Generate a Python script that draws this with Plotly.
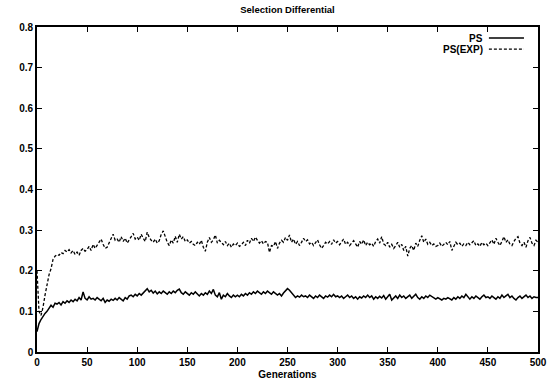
import plotly.graph_objects as go

generations = list(range(0, 501, 2))

ps_exp = [
    0.20, 0.10, 0.09, 0.11, 0.14, 0.165, 0.19, 0.205, 0.228, 0.236, 0.24, 0.238, 0.245, 0.242, 0.25, 0.246, 0.252, 0.244, 0.25, 0.24, 0.246, 0.238, 0.25, 0.255, 0.248,
    0.252, 0.26, 0.25, 0.265, 0.255, 0.262, 0.272, 0.278, 0.265, 0.255, 0.258, 0.268, 0.282, 0.29, 0.275, 0.278, 0.27, 0.284, 0.272, 0.28, 0.268, 0.276, 0.285, 0.292, 0.278,
    0.283, 0.275, 0.29, 0.28, 0.272, 0.295, 0.282, 0.275, 0.27, 0.278, 0.268, 0.274, 0.29, 0.298, 0.282, 0.27, 0.262, 0.276, 0.268, 0.285, 0.27, 0.29, 0.278, 0.284, 0.272,
    0.276, 0.268, 0.272, 0.265, 0.262, 0.27, 0.265, 0.275, 0.258, 0.248, 0.27, 0.282, 0.27, 0.276, 0.288, 0.268, 0.275, 0.27, 0.264, 0.272, 0.262, 0.268, 0.258, 0.266, 0.262,
    0.268, 0.26, 0.264, 0.27, 0.262, 0.275, 0.268, 0.28, 0.272, 0.283, 0.275, 0.268, 0.274, 0.266, 0.272, 0.27, 0.245, 0.262, 0.26, 0.272, 0.255, 0.268, 0.275, 0.27, 0.282,
    0.275, 0.288, 0.27, 0.278, 0.265, 0.272, 0.262, 0.27, 0.28, 0.272, 0.276, 0.266, 0.27, 0.262, 0.268, 0.276, 0.264, 0.255, 0.262, 0.27, 0.266, 0.272, 0.265, 0.276, 0.268,
    0.272, 0.264, 0.27, 0.278, 0.265, 0.27, 0.262, 0.268, 0.274, 0.266, 0.258, 0.272, 0.265, 0.276, 0.262, 0.27, 0.264, 0.268, 0.26, 0.272, 0.278, 0.268, 0.284, 0.266, 0.262,
    0.27, 0.258, 0.265, 0.255, 0.262, 0.27, 0.258, 0.265, 0.25, 0.26, 0.236, 0.255, 0.262, 0.25, 0.268, 0.26, 0.275, 0.286, 0.27, 0.278, 0.265, 0.27, 0.262, 0.266, 0.26,
    0.262, 0.268, 0.26, 0.265, 0.27, 0.264, 0.272, 0.25, 0.262, 0.27, 0.264, 0.268, 0.26, 0.266, 0.262, 0.27, 0.264, 0.268, 0.274, 0.262, 0.266, 0.26, 0.27, 0.264, 0.268,
    0.262, 0.27, 0.276, 0.265, 0.28, 0.27, 0.262, 0.272, 0.284, 0.27, 0.276, 0.265, 0.262, 0.272, 0.28, 0.284, 0.268, 0.262, 0.27, 0.258, 0.274, 0.282, 0.268, 0.262, 0.275,
    0.27,
]

ps = [
    0.05, 0.07, 0.08, 0.088, 0.095, 0.10, 0.108, 0.115, 0.11, 0.12, 0.118, 0.122, 0.116, 0.124, 0.12, 0.126, 0.122, 0.128, 0.124, 0.13, 0.126, 0.134, 0.128, 0.148, 0.132,
    0.128, 0.136, 0.13, 0.132, 0.128, 0.134, 0.13, 0.126, 0.132, 0.122, 0.128, 0.125, 0.13, 0.127, 0.132, 0.128, 0.134, 0.13, 0.126, 0.134, 0.13, 0.138, 0.14, 0.136, 0.142,
    0.138, 0.144, 0.14, 0.146, 0.15, 0.156, 0.148, 0.152, 0.145, 0.15, 0.143, 0.148, 0.144, 0.15, 0.146, 0.142, 0.148, 0.144, 0.15, 0.146, 0.152, 0.155, 0.146, 0.142, 0.148,
    0.144, 0.14, 0.146, 0.142, 0.148, 0.143, 0.138, 0.144, 0.14, 0.146, 0.142, 0.15, 0.144, 0.154, 0.14, 0.136, 0.146, 0.13, 0.14, 0.136, 0.144, 0.138, 0.134, 0.14, 0.136,
    0.14, 0.136, 0.142, 0.138, 0.144, 0.14, 0.146, 0.142, 0.148, 0.144, 0.15, 0.145, 0.142, 0.148, 0.144, 0.15, 0.146, 0.142, 0.148, 0.144, 0.14, 0.144, 0.138, 0.145, 0.15,
    0.156, 0.152, 0.146, 0.138, 0.134, 0.138, 0.135, 0.14, 0.136, 0.138, 0.134, 0.14, 0.136, 0.132, 0.138, 0.134, 0.14, 0.136, 0.132, 0.138, 0.135, 0.14, 0.136, 0.142, 0.136,
    0.138, 0.134, 0.138, 0.132, 0.136, 0.14, 0.134, 0.138, 0.132, 0.136, 0.13, 0.136, 0.133, 0.138, 0.134, 0.14, 0.134, 0.138, 0.13, 0.136, 0.132, 0.137, 0.133, 0.139, 0.13,
    0.136, 0.142, 0.128, 0.134, 0.138, 0.132, 0.14, 0.134, 0.138, 0.132, 0.136, 0.14, 0.132, 0.136, 0.142, 0.134, 0.13, 0.136, 0.132, 0.138, 0.134, 0.14, 0.136, 0.134, 0.13,
    0.134, 0.13, 0.128, 0.132, 0.13, 0.134, 0.13, 0.128, 0.134, 0.13, 0.136, 0.132, 0.138, 0.134, 0.142, 0.136, 0.13, 0.136, 0.132, 0.138, 0.134, 0.13, 0.136, 0.14, 0.134,
    0.136, 0.132, 0.138, 0.134, 0.13, 0.136, 0.132, 0.14, 0.134, 0.138, 0.142, 0.134, 0.138, 0.132, 0.128, 0.134, 0.138, 0.132, 0.136, 0.14, 0.134, 0.138, 0.132, 0.136, 0.134,
    0.134,
]

x_ticks = [0, 50, 100, 150, 200, 250, 300, 350, 400, 450, 500]
y_ticks = [0, 0.1, 0.2, 0.3, 0.4, 0.5, 0.6, 0.7, 0.8]
y_tick_labels = ["0", "0.1", "0.2", "0.3", "0.4", "0.5", "0.6", "0.7", "0.8"]

FONT = "Liberation Sans, Arial, Helvetica, sans-serif"

fig = go.Figure()
fig.add_trace(go.Scatter(x=generations, y=ps, mode="lines", name="PS",
                         line=dict(color="black", width=1.5), showlegend=False))
fig.add_trace(go.Scatter(x=generations, y=ps_exp, mode="lines", name="PS(EXP)",
                         line=dict(color="black", width=1.3, dash="3px,2px"), showlegend=False))

axis_common = dict(showgrid=False, zeroline=False, showline=True, linecolor="black",
                   linewidth=1.6, mirror="ticks", ticks="inside", ticklen=5,
                   tickcolor="black", tickwidth=1.2,
                   tickfont=dict(family=FONT, size=10, color="black", weight="bold"))

fig.update_xaxes(range=[0, 500], tickvals=x_ticks, ticktext=[str(v) for v in x_ticks],
                 title=dict(text="Generations", standoff=4,
                            font=dict(family=FONT, size=10, color="black", weight="bold")),
                 **axis_common)
fig.update_yaxes(range=[0, 0.8], tickvals=y_ticks, ticktext=y_tick_labels, **axis_common)

# legend (gnuplot style: right-aligned text followed by line sample)
legend_rows = [("PS", dict(color="black", width=1.5)), ("PS(EXP)", dict(color="black", width=1.3, dash="3px,2px"))]
legend_y = [0.966, 0.932]
for (label, ln), yy in zip(legend_rows, legend_y):
    fig.add_annotation(xref="paper", yref="paper", x=0.894, y=yy, text=label, showarrow=False,
                       xanchor="right", yanchor="middle",
                       font=dict(family=FONT, size=10, color="black", weight="bold"))
    fig.add_shape(type="line", xref="paper", yref="paper", x0=0.902, x1=0.972, y0=yy, y1=yy, line=ln)

fig.update_layout(
    width=558, height=389,
    margin=dict(l=37, r=20, t=27, b=37, autoexpand=False),
    paper_bgcolor="white", plot_bgcolor="white",
    title=dict(text="Selection Differential", x=0.5, xref="paper", y=0.975, yanchor="middle",
               font=dict(family=FONT, size=9.5, color="black", weight="bold")),
)

fig.write_html("out.html", config={"displayModeBar": False},
               post_script="document.body.style.margin='0';document.body.style.overflow='hidden';")
